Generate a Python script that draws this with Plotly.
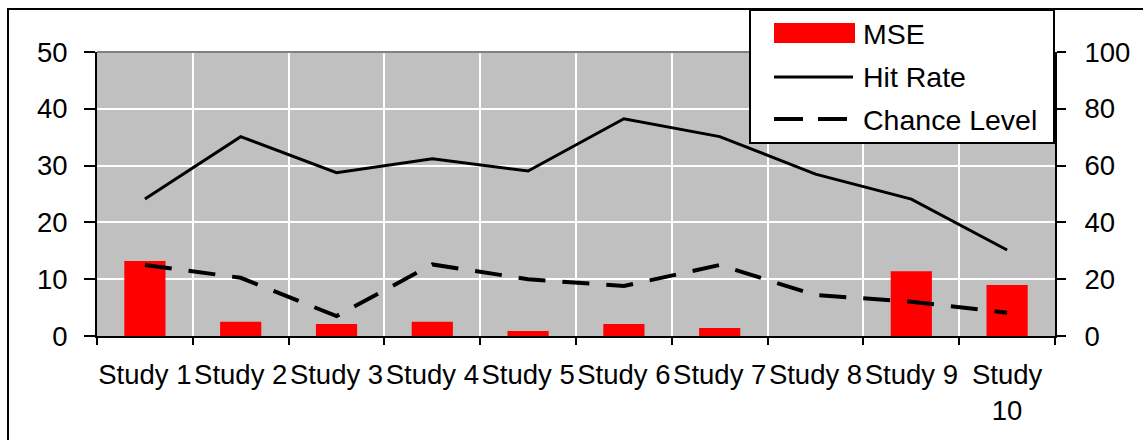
import plotly.graph_objects as go

categories = ["Study 1", "Study 2", "Study 3", "Study 4", "Study 5",
              "Study 6", "Study 7", "Study 8", "Study 9", "Study 10"]
tick_labels = ["Study 1", "Study 2", "Study 3", "Study 4", "Study 5",
               "Study 6", "Study 7", "Study 8", "Study 9", "Study<br>10"]
mse = [13.2, 2.5, 2.1, 2.5, 0.9, 2.1, 1.4, 0.0, 11.4, 9.0]
hit_rate = [48.2, 70.2, 57.5, 62.4, 58.1, 76.5, 70.2, 57.0, 48.2, 30.3]
chance_level = [25.0, 20.5, 7.0, 25.2, 20.0, 17.6, 25.0, 14.4, 12.1, 8.2]
left_ticks = [0, 10, 20, 30, 40, 50]
right_ticks = [0, 20, 40, 60, 80, 100]

FONT = "Liberation Sans, Arial, sans-serif"
W, H = 1143, 440
L, R, T, B = 97, 1055, 52, 336


def px(x):
    return (x - L) / (R - L)


def py(y):
    return (B - y) / (B - T)


fig = go.Figure()
fig.add_trace(go.Bar(x=categories, y=mse, name="MSE", marker=dict(color="#FF0000", line=dict(width=0)),
                     width=0.43, yaxis="y", showlegend=False))
fig.add_trace(go.Scatter(x=categories, y=hit_rate, name="Hit Rate", mode="lines",
                         line=dict(color="black", width=3), yaxis="y2", showlegend=False))
fig.add_trace(go.Scatter(x=categories, y=chance_level, name="Chance Level", mode="lines",
                         line=dict(color="black", width=4, dash="27px,17px"), yaxis="y2", showlegend=False))

tickfont = dict(family=FONT, size=27.5, color="black")

fig.update_layout(
    width=W, height=H,
    margin=dict(l=L, r=W - R, t=T, b=H - B, autoexpand=False),
    paper_bgcolor="white",
    plot_bgcolor="#C0C0C0",
    font=dict(family=FONT, size=27.5, color="black"),
    bargap=0.57,
    xaxis=dict(
        type="category", categoryorder="array", categoryarray=categories,
        tickmode="array", tickvals=categories, ticktext=tick_labels, tickangle=0,
        tickson="boundaries", ticks="outside", ticklen=7, tickwidth=2, tickcolor="black",
        showgrid=True, gridcolor="white", gridwidth=2, automargin=False,
        showline=True, linecolor="black", linewidth=2,
        tickfont=tickfont, range=[-0.5, 9.5], ticklabelstandoff=13,
    ),
    yaxis=dict(
        range=[0, 50], tickmode="array", tickvals=left_ticks,
        ticks="outside", ticklen=11, tickwidth=2, tickcolor="black",
        showgrid=True, gridcolor="white", gridwidth=2, zeroline=False, automargin=False,
        showline=True, linecolor="black", linewidth=2,
        tickfont=tickfont, ticklabelstandoff=11,
    ),
    yaxis2=dict(
        range=[0, 100], tickmode="array", tickvals=right_ticks,
        overlaying="y", side="right", anchor="x",
        ticks="outside", ticklen=9, tickwidth=2, tickcolor="black",
        showgrid=False, zeroline=False, automargin=False,
        showline=True, linecolor="black", linewidth=2,
        tickfont=tickfont, ticklabelstandoff=13,
    ),
    yaxis3=dict(
        range=[0, 50], tickmode="array", tickvals=left_ticks,
        overlaying="y", side="left", anchor="x",
        ticks="inside", ticklen=9, tickwidth=2, tickcolor="black", automargin=False,
        showticklabels=False, showgrid=False, zeroline=False, showline=False,
    ),
    yaxis4=dict(
        range=[0, 100], tickmode="array", tickvals=right_ticks,
        overlaying="y", side="right", anchor="x",
        ticks="inside", ticklen=11, tickwidth=2, tickcolor="black", automargin=False,
        showticklabels=False, showgrid=False, zeroline=False, showline=False,
    ),
    xaxis2=dict(
        range=[-0.5, 9.5], tickmode="array", tickvals=[i - 0.5 for i in range(11)],
        overlaying="x", side="bottom", anchor="y",
        ticks="inside", ticklen=7, tickwidth=2, tickcolor="black", automargin=False,
        showticklabels=False, showgrid=False, zeroline=False, showline=False,
    ),
    showlegend=False,
)

shapes = [
    # plot area top border
    dict(type="line", xref="paper", yref="paper", x0=0, x1=1, y0=1, y1=1,
         line=dict(color="#808080", width=2), layer="above"),
    # outer chart border
    dict(type="rect", xref="paper", yref="paper", x0=px(8), x1=px(1180), y0=py(9), y1=py(480),
         line=dict(color="black", width=2), fillcolor="rgba(0,0,0,0)", layer="above"),
    # legend box
    dict(type="rect", xref="paper", yref="paper", x0=px(750), x1=px(1054), y0=py(10), y1=py(143),
         line=dict(color="black", width=2), fillcolor="white", layer="above"),
    # legend swatches
    dict(type="rect", xref="paper", yref="paper", x0=px(774), x1=px(855), y0=py(23), y1=py(43),
         line=dict(width=0), fillcolor="#FF0000", layer="above"),
    dict(type="line", xref="paper", yref="paper", x0=px(774), x1=px(853), y0=py(77), y1=py(77),
         line=dict(color="black", width=3), layer="above"),
    dict(type="line", xref="paper", yref="paper", x0=px(774), x1=px(848), y0=py(119), y1=py(119),
         line=dict(color="black", width=4, dash="29px,15px"), layer="above"),
]
fig.update_layout(shapes=shapes)

legend_names = ["MSE", "Hit Rate", "Chance Level"]
legend_rows = [34, 77, 120]
for name, row in zip(legend_names, legend_rows):
    fig.add_annotation(text=name, xref="paper", yref="paper", x=px(861), y=py(row),
                       xanchor="left", yanchor="middle", showarrow=False,
                       font=dict(family=FONT, size=28.5, color="black"))

fig.write_html("out.html")
